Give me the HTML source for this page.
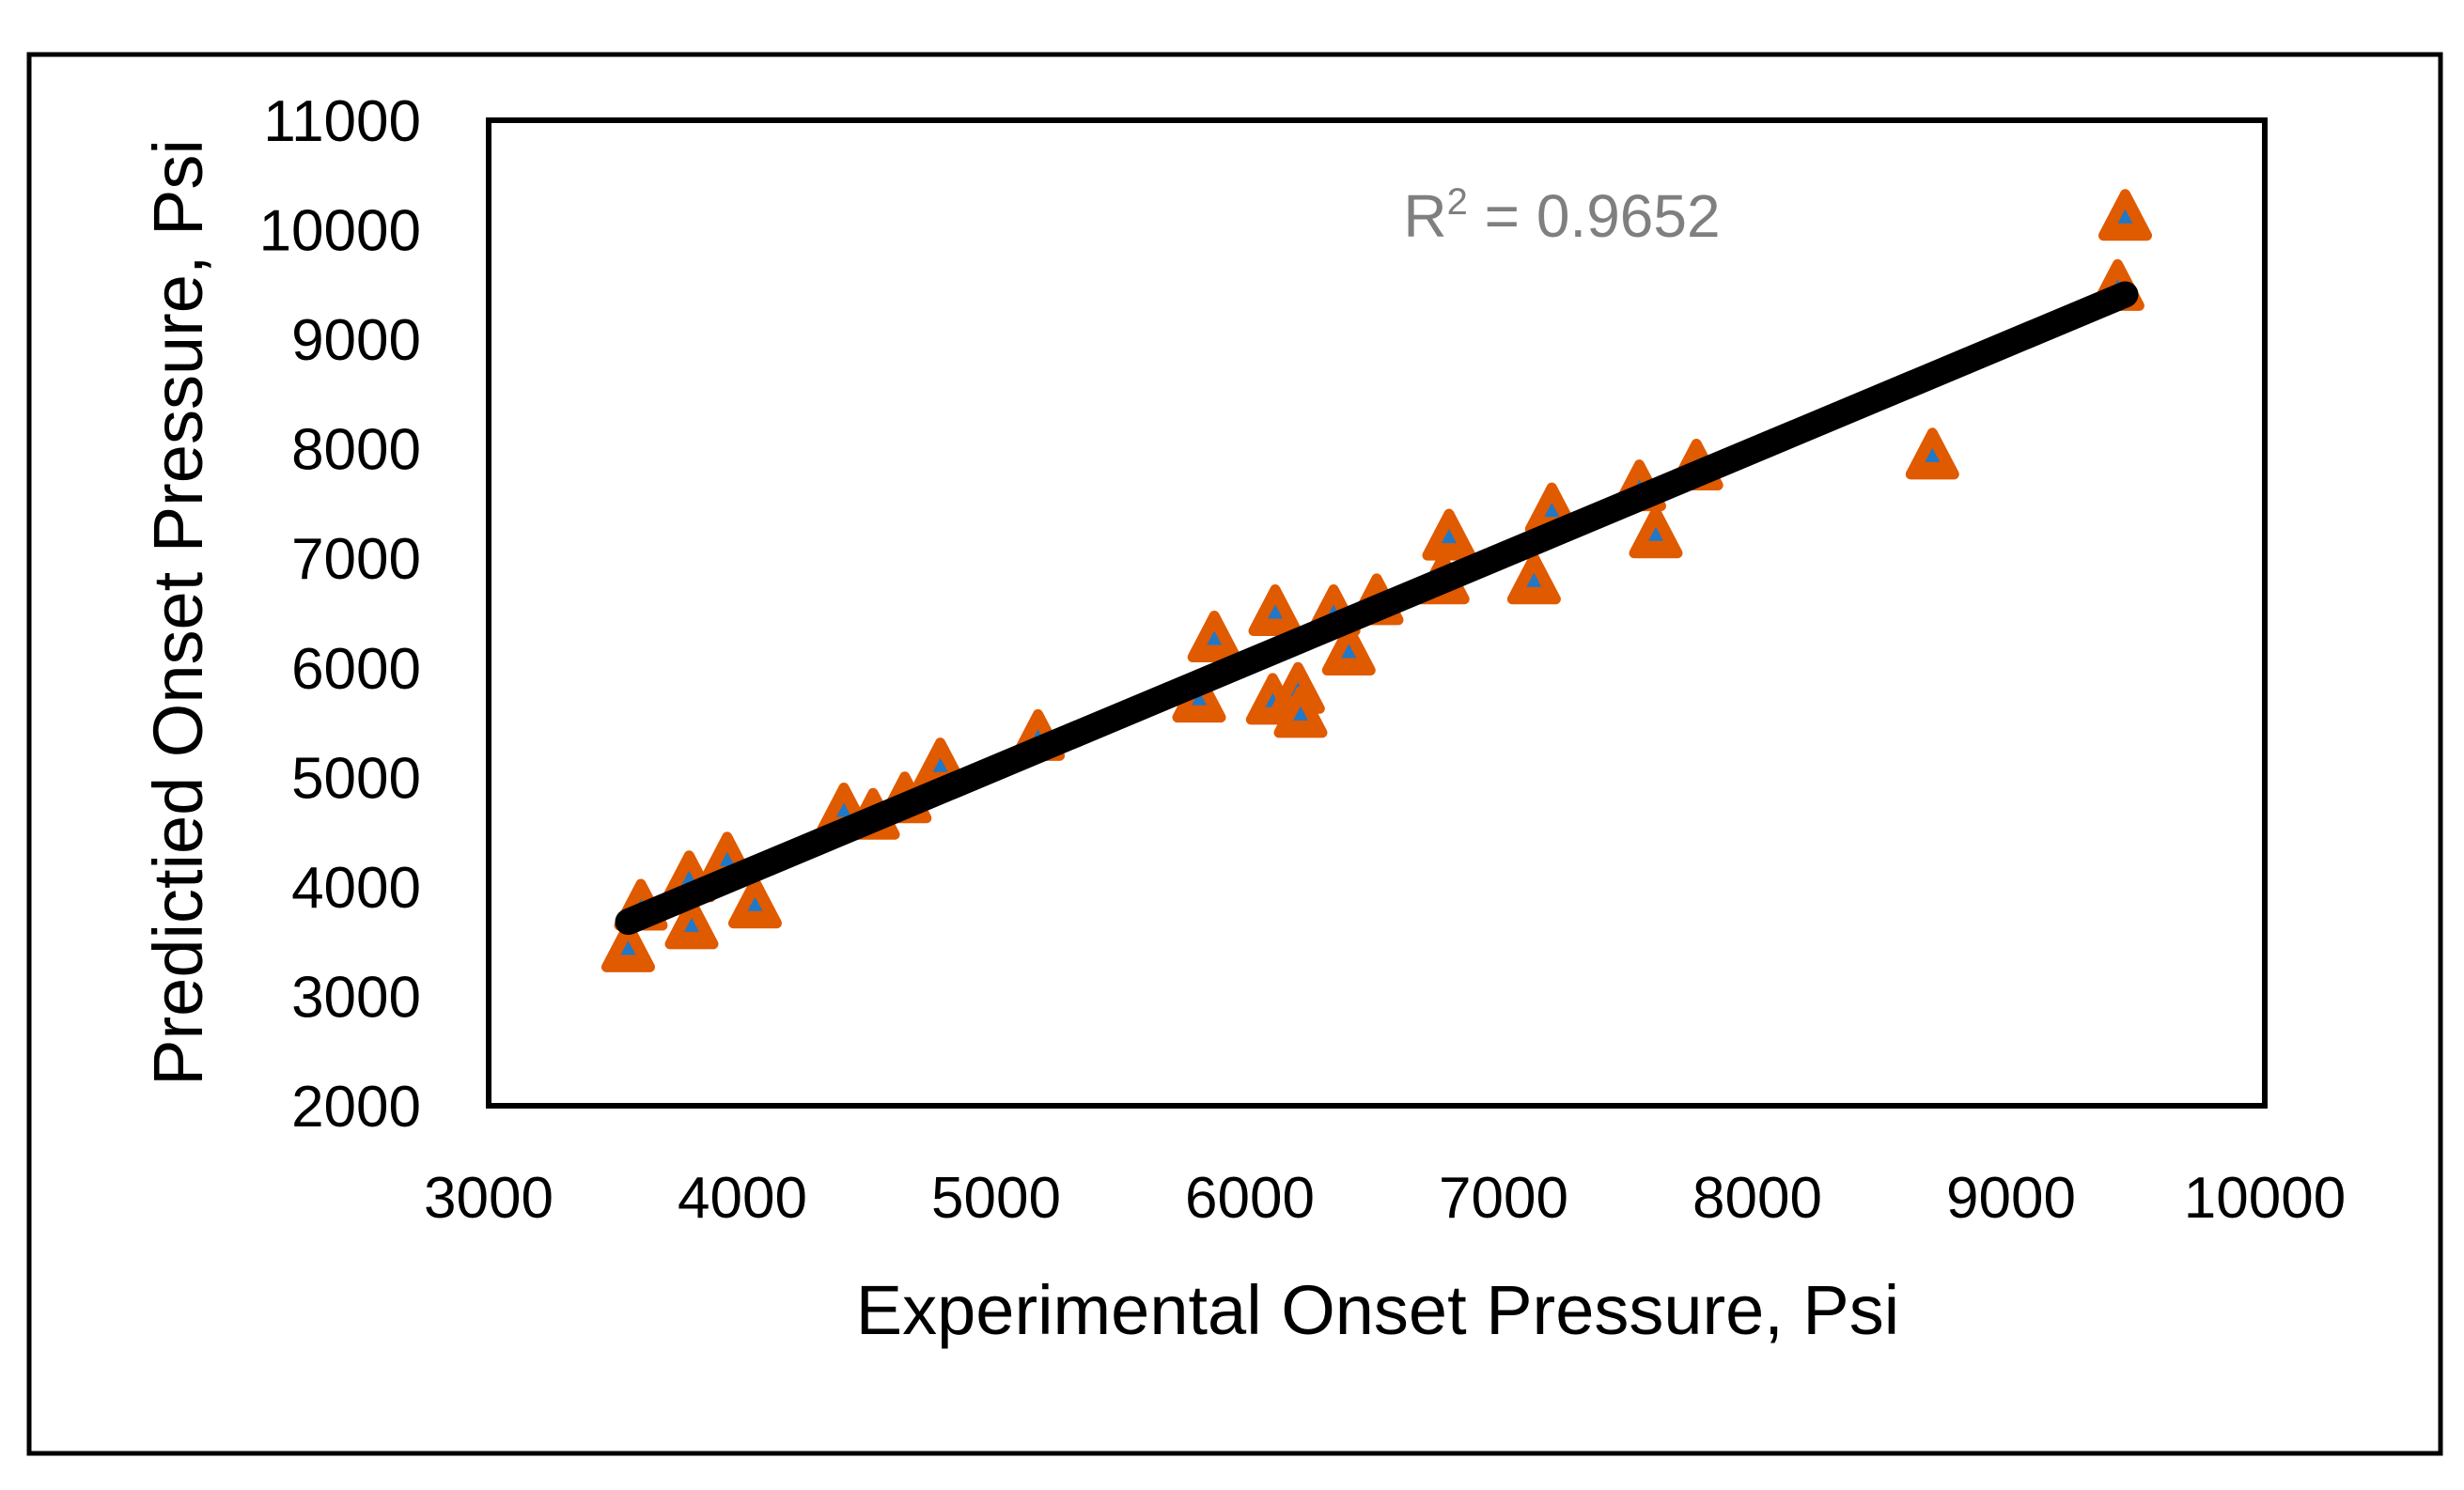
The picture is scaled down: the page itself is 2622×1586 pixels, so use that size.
<!DOCTYPE html>
<html><head><meta charset="utf-8"><style>
html,body{margin:0;padding:0;background:#fff;}
svg{display:block;font-family:"Liberation Sans",sans-serif;}
</style></head><body>
<svg id="chart" width="2622" height="1586" viewBox="0 0 2622 1586">
<rect x="31" y="58" width="2566" height="1489" fill="#fff" stroke="#000" stroke-width="5"/>
<rect x="520" y="128" width="1890" height="1049" fill="none" stroke="#000" stroke-width="6"/>
<g id="yticks"></g>
<g id="xticks"></g>
<g id="points"></g>
<g id="trend"></g>
<text x="1662" y="252" font-size="64" fill="#7f7f7f" text-anchor="middle">R<tspan font-size="40" dy="-24">2</tspan><tspan dy="24"> = 0.9652</tspan></text>
<text x="1466" y="1420" font-size="74" text-anchor="middle" fill="#000">Experimental Onset Pressure, Psi</text>
<text transform="translate(215,652) rotate(-90)" font-size="74" text-anchor="middle" fill="#000">Predictied Onset Pressure, Psi</text>
</svg>
<script>
const xTicks=[3000,4000,5000,6000,7000,8000,9000,10000];
const yTicks=[2000,3000,4000,5000,6000,7000,8000,9000,10000,11000];
const expX=[3550,3600,3790,3800,3940,4050,4400,4515,4640,4780,5165,5800,5860,6100,6090,6190,6200,6330,6390,6500,6760,6785,7120,7190,7535,7600,7760,8690,9420,9450];
const predY=[3430,3810,4070,3640,4240,3830,4690,4640,4790,5100,5360,5710,6260,6500,5690,5790,5570,6500,6140,6600,6790,7190,6790,7430,7640,7210,7830,7930,9470,10110];
const trendSlope=[0.971];
const trendIntercept=[233];
const NS='http://www.w3.org/2000/svg';
const X0=520,X1=2410,Y0=1177,Y1=128;
function sx(v){return X0+(v-3000)/7000*(X1-X0);}
function sy(v){return Y0-(v-2000)/9000*(Y0-Y1);}
function mk(tag,attrs,parent){const e=document.createElementNS(NS,tag);for(const k in attrs)e.setAttribute(k,attrs[k]);parent.appendChild(e);return e;}
const yg=document.getElementById('yticks');
yTicks.forEach(v=>{const t=mk('text',{x:448,y:sy(v)+22,'font-size':62,'text-anchor':'end',fill:'#000'},yg);


t.textContent=v;});
const xg=document.getElementById('xticks');
xTicks.forEach(v=>{const t=mk('text',{x:sx(v),y:1296,'font-size':62,'text-anchor':'middle',fill:'#000'},xg);


t.textContent=v;});
const pg=document.getElementById('points');
expX.forEach((xv,i)=>{const cx=sx(xv),cy=sy(predY[i]);
const o=mk('path',{d:`M${cx},${cy-25} L${cx+23},${cy+19} L${cx-23},${cy+19} Z`,fill:'#e05a00',stroke:'#e05a00','stroke-width':11,'stroke-linejoin':'round'},pg);


const b=mk('path',{d:`M${cx},${cy-9} L${cx+8},${cy+6} L${cx-8},${cy+6} Z`,fill:'#1f78c8'},pg);

});
const tg=document.getElementById('trend');
const xmin=Math.min(...expX),xmax=Math.max(...expX);
const ln=mk('line',{x1:sx(xmin),y1:sy(trendSlope[0]*xmin+trendIntercept[0]),x2:sx(xmax),y2:sy(trendSlope[0]*xmax+trendIntercept[0]),stroke:'#000','stroke-width':28,'stroke-linecap':'round'},tg);


</script>
</body></html>
